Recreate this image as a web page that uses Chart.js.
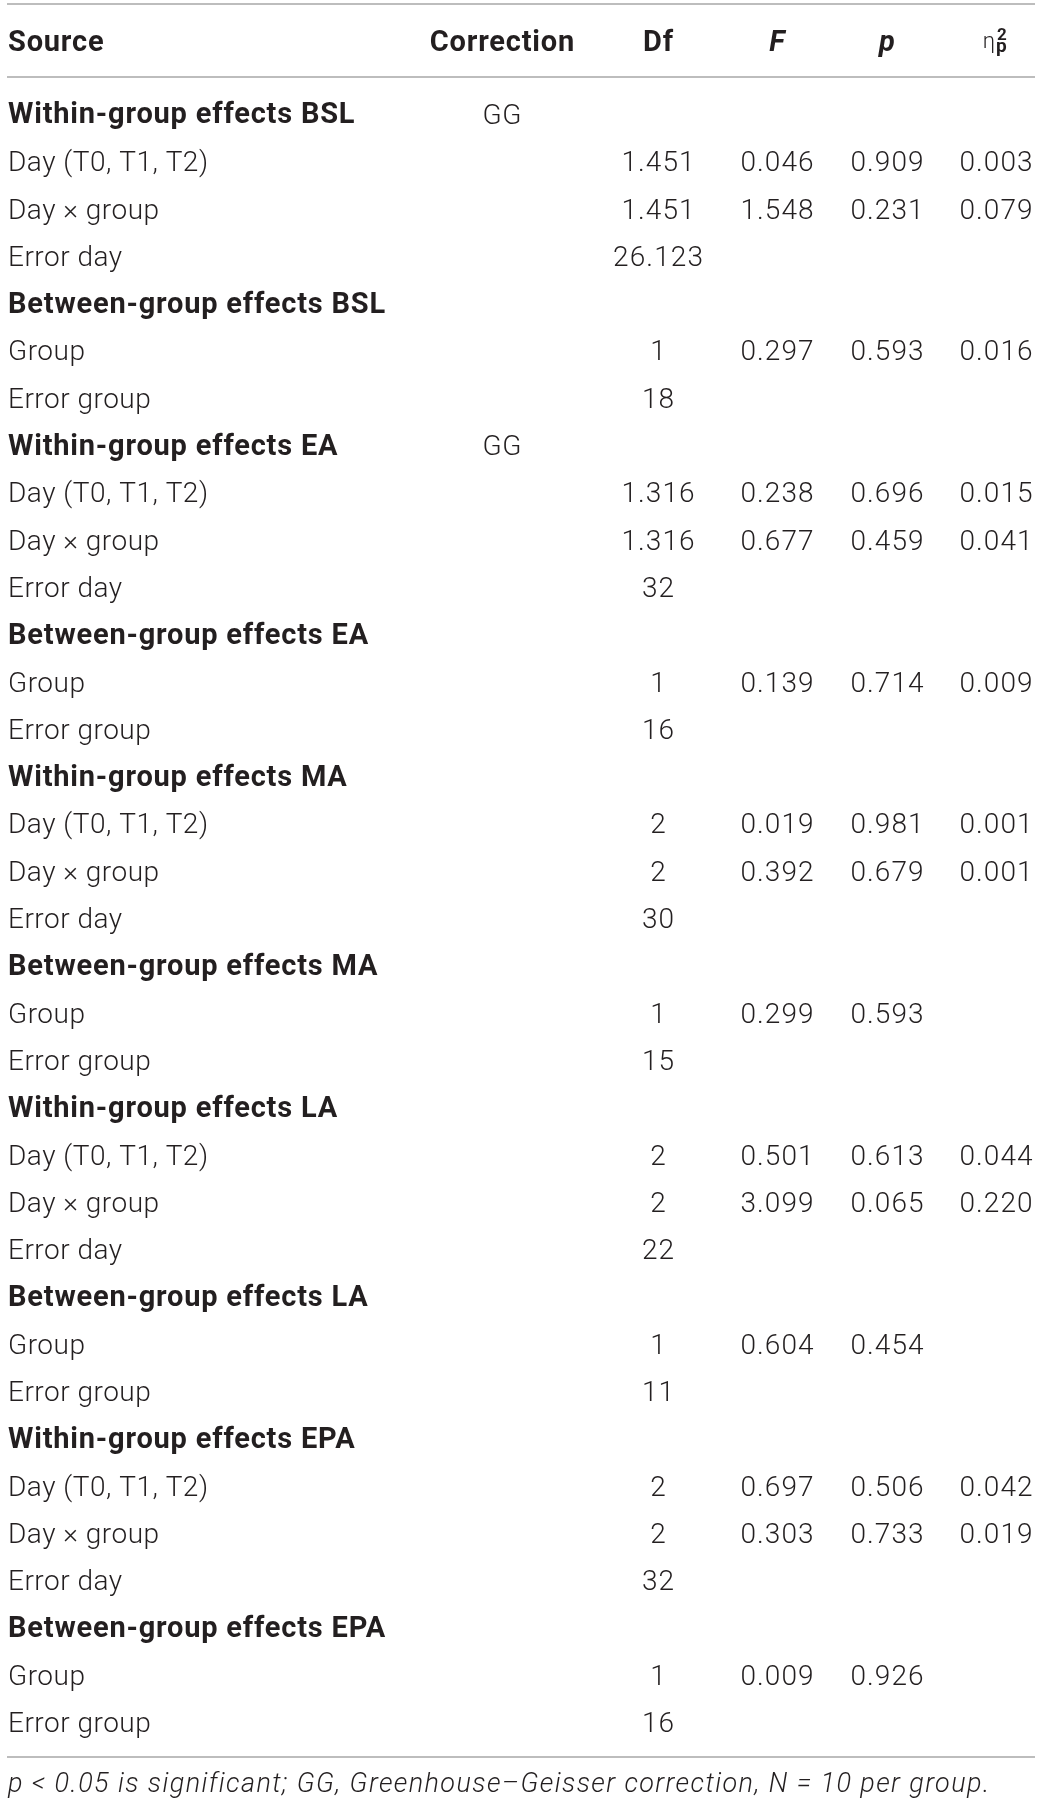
<!DOCTYPE html>
<html>
<head>
<meta charset="utf-8">
<script src="https://cdn.jsdelivr.net/npm/chart.js@4"></script>
<style>
  html, body { margin: 0; padding: 0; background: #ffffff; }
  #wrap { width: 1041px; height: 1805px; }
</style>
</head>
<body>
<div id="wrap"><canvas id="c" width="1041" height="1805"></canvas></div>
<script>
// ---------------- DATA ----------------
const headers = ['Source', 'Correction', 'Df', 'F', 'p', 'η'];

const sources = [
  'Within-group effects BSL', 'Day (T0, T1, T2)', 'Day × group', 'Error day',
  'Between-group effects BSL', 'Group', 'Error group',
  'Within-group effects EA', 'Day (T0, T1, T2)', 'Day × group', 'Error day',
  'Between-group effects EA', 'Group', 'Error group',
  'Within-group effects MA', 'Day (T0, T1, T2)', 'Day × group', 'Error day',
  'Between-group effects MA', 'Group', 'Error group',
  'Within-group effects LA', 'Day (T0, T1, T2)', 'Day × group', 'Error day',
  'Between-group effects LA', 'Group', 'Error group',
  'Within-group effects EPA', 'Day (T0, T1, T2)', 'Day × group', 'Error day',
  'Between-group effects EPA', 'Group', 'Error group'
];

const sectionRows = [0, 4, 7, 11, 14, 18, 21, 25, 28, 32];

const correction = [
  'GG', '', '', '', '', '', '',
  'GG', '', '', '', '', '', '',
  '', '', '', '', '', '', '',
  '', '', '', '', '', '', '',
  '', '', '', '', '', '', ''
];

const dfVals = [
  '', '1.451', '1.451', '26.123', '', '1', '18',
  '', '1.316', '1.316', '32', '', '1', '16',
  '', '2', '2', '30', '', '1', '15',
  '', '2', '2', '22', '', '1', '11',
  '', '2', '2', '32', '', '1', '16'
];

const fVals = [
  '', '0.046', '1.548', '', '', '0.297', '',
  '', '0.238', '0.677', '', '', '0.139', '',
  '', '0.019', '0.392', '', '', '0.299', '',
  '', '0.501', '3.099', '', '', '0.604', '',
  '', '0.697', '0.303', '', '', '0.009', ''
];

const pVals = [
  '', '0.909', '0.231', '', '', '0.593', '',
  '', '0.696', '0.459', '', '', '0.714', '',
  '', '0.981', '0.679', '', '', '0.593', '',
  '', '0.613', '0.065', '', '', '0.454', '',
  '', '0.506', '0.733', '', '', '0.926', ''
];

const etaVals = [
  '', '0.003', '0.079', '', '', '0.016', '',
  '', '0.015', '0.041', '', '', '0.009', '',
  '', '0.001', '0.001', '', '', '', '',
  '', '0.044', '0.220', '', '', '', '',
  '', '0.042', '0.019', '', '', '', ''
];

const footnote = 'p < 0.05 is significant; GG, Greenhouse–Geisser correction, N = 10 per group.';

// ---------------- LAYOUT / STYLE ----------------
const FONT = 'Roboto, "Helvetica Neue", Arial, sans-serif';
const TEXT_COLOR = '#231f20';
const RULE_COLOR = '#bdbdbd';
const BODY_SIZE = 28, BODY_SPACING = 0.5, NUM_SPACING = 1.1;
const BOLD_SIZE = 29, BOLD_SPACING = 0.8;
const FOOT_SIZE = 27, FOOT_SPACING = 1.4;
const colAnchor = [8, 502, 658, 777, 887, 996];   // x-scale values of the columns
const colAlign  = ['left', 'center', 'center', 'center', 'center', 'center'];
const HEADER_ROW = -1.55;
const FOOT_ROW = 35.26;
const ruleRows = [-2.33, -0.80, 34.72];
const RULE_X0 = 7, RULE_X1 = 1035;

// ---------------- BUILD DATASETS ----------------
const columnsData = [sources, correction, dfVals, fVals, pVals, etaVals];
const datasets = columnsData.map((col, ci) => ({
  label: headers[ci],
  data: col.map((t, ri) => ({ x: colAnchor[ci], y: ri, t: t, bold: ci === 0 && sectionRows.includes(ri) })),
  pointRadius: 0,
  pointHoverRadius: 0,
  showLine: false
}));
datasets.push({
  label: 'header',
  data: headers.map((h, ci) => ({ x: colAnchor[ci], y: HEADER_ROW, t: h, header: true, col: ci })),
  pointRadius: 0, pointHoverRadius: 0, showLine: false
});
datasets.push({
  label: 'foot',
  data: [{ x: colAnchor[0], y: FOOT_ROW, t: footnote, foot: true }],
  pointRadius: 0, pointHoverRadius: 0, showLine: false
});

function drawText(ctx, text, x, y, align, spacing) {
  ctx.letterSpacing = spacing + 'px';
  let w = ctx.measureText(text).width;
  let sx = x;
  if (align === 'center') sx = x - (w - spacing) / 2;
  else if (align === 'right') sx = x - (w - spacing);
  ctx.textAlign = 'left';
  ctx.fillText(text, sx, y);
  ctx.letterSpacing = '0px';
}

const tablePlugin = {
  id: 'tableText',
  afterDatasetsDraw(chart) {
    const ctx = chart.ctx;
    const xs = chart.scales.x, ys = chart.scales.y;
    ctx.save();
    // rules
    ctx.strokeStyle = RULE_COLOR;
    ctx.lineWidth = 2;
    ruleRows.forEach(v => {
      const y = Math.round(ys.getPixelForValue(v));
      ctx.beginPath();
      ctx.moveTo(xs.getPixelForValue(RULE_X0), y);
      ctx.lineTo(xs.getPixelForValue(RULE_X1), y);
      ctx.stroke();
    });
    ctx.fillStyle = TEXT_COLOR;
    ctx.textBaseline = 'alphabetic';
    chart.data.datasets.forEach((ds, di) => {
      const meta = chart.getDatasetMeta(di);
      meta.data.forEach((el, j) => {
        const raw = ds.data[j];
        if (!raw.t) return;
        const x = el.x, yc = el.y;
        if (raw.header) {
          if (raw.col === 5) {
            // eta with stacked superscript 2 and subscript p
            ctx.font = '300 22px ' + FONT;
            drawText(ctx, 'η', x - 1, yc + 7, 'right', 0);
            ctx.font = 'bold 17px ' + FONT;
            drawText(ctx, '2', x + 1, yc - 1.5, 'left', 0);
            ctx.font = 'bold 19px ' + FONT;
            drawText(ctx, 'p', x, yc + 10.5, 'left', 0);
            return;
          }
          const italic = (raw.col === 3 || raw.col === 4) ? 'italic ' : '';
          ctx.font = italic + 'bold ' + BOLD_SIZE + 'px ' + FONT;
          drawText(ctx, raw.t, x, yc + BOLD_SIZE * 0.34, colAlign[raw.col], BOLD_SPACING);
          return;
        }
        if (raw.foot) {
          ctx.font = 'italic 300 ' + FOOT_SIZE + 'px ' + FONT;
          drawText(ctx, raw.t, x, yc + FOOT_SIZE * 0.34, 'left', FOOT_SPACING);
          return;
        }
        if (raw.bold) {
          ctx.font = 'bold ' + BOLD_SIZE + 'px ' + FONT;
          drawText(ctx, raw.t, x, yc + BOLD_SIZE * 0.30, colAlign[di], BOLD_SPACING);
        } else {
          ctx.font = '300 ' + BODY_SIZE + 'px ' + FONT;
          drawText(ctx, raw.t, x, yc + BODY_SIZE * 0.33, colAlign[di], di >= 2 ? NUM_SPACING : BODY_SPACING);
        }
      });
    });
    ctx.restore();
  }
};

new Chart(document.getElementById('c'), {
  type: 'scatter',
  data: { datasets },
  options: {
    responsive: false,
    animation: false,
    events: [],
    layout: { padding: 0 },
    plugins: { legend: { display: false }, tooltip: { enabled: false }, title: { display: false } },
    scales: {
      x: { type: 'linear', min: 0, max: 1041, display: false },
      y: { type: 'linear', min: -2.4248, max: 35.733, reverse: true, display: false }
    }
  },
  plugins: [tablePlugin, {
    id: 'bg',
    beforeDraw(chart) {
      const c = chart.ctx; c.save(); c.fillStyle = '#ffffff';
      c.fillRect(0, 0, chart.width, chart.height); c.restore();
    }
  }]
});
</script>
</body>
</html>
